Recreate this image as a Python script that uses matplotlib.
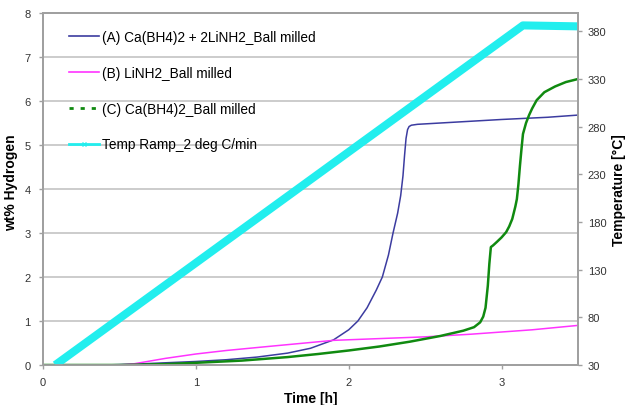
import matplotlib
matplotlib.use("Agg")
import matplotlib.pyplot as plt
from matplotlib.lines import Line2D

plt.rcParams['font.family'] = ['Liberation Sans', 'DejaVu Sans']

# Data
a_t = [0, 0.4, 0.6, 0.8, 1.0, 1.2, 1.4, 1.6, 1.75, 1.9, 2.0, 2.06, 2.12, 2.18, 2.22, 2.26, 2.29, 2.32,
       2.34, 2.355, 2.365, 2.375, 2.385, 2.395, 2.41, 2.45, 2.7, 3.0, 3.3, 3.5]
a_wt = [0, 0, 0.02, 0.05, 0.08, 0.12, 0.18, 0.27, 0.38, 0.57, 0.8, 1.0, 1.3, 1.7, 2.0, 2.5, 3.0, 3.45,
        3.85, 4.3, 4.75, 5.15, 5.35, 5.42, 5.45, 5.47, 5.52, 5.58, 5.63, 5.68]

b_t = [0, 0.5, 0.6, 0.8, 1.0, 1.2, 1.5, 1.9, 2.2, 2.5, 2.8, 3.0, 3.2, 3.5]
b_wt = [0, 0, 0.03, 0.15, 0.25, 0.33, 0.43, 0.56, 0.60, 0.64, 0.70, 0.75, 0.80, 0.90]

c_t = [0, 0.5, 0.8, 1.0, 1.3, 1.6, 1.8, 2.0, 2.2, 2.4, 2.6, 2.75, 2.82, 2.86, 2.88, 2.895, 2.91, 2.92,
       2.93, 2.945, 2.97, 3.0, 3.03, 3.05, 3.07, 3.09, 3.10, 3.11, 3.12, 3.13, 3.14, 3.16, 3.18, 3.2,
       3.23, 3.28, 3.35, 3.42, 3.5]
c_wt = [0, 0, 0.02, 0.05, 0.1, 0.18, 0.25, 0.33, 0.42, 0.53, 0.66, 0.78, 0.86, 0.97, 1.1, 1.3, 1.8, 2.3,
        2.68, 2.72, 2.8, 2.9, 3.02, 3.15, 3.32, 3.6, 3.77, 4.1, 4.52, 4.9, 5.25, 5.5, 5.68, 5.83,
        6.02, 6.2, 6.33, 6.43, 6.5]

temp_t = [0.08, 3.14, 3.5]
temp_c = [30, 386, 385]

labels = ["(A) Ca(BH4)2 + 2LiNH2_Ball milled", "(B) LiNH2_Ball milled",
          "(C) Ca(BH4)2_Ball milled", "Temp Ramp_2 deg C/min"]
x_ticks = [0, 1, 2, 3]
y_ticks = [0, 1, 2, 3, 4, 5, 6, 7, 8]
t_ticks = [30, 80, 130, 180, 230, 280, 330, 380]

blue = '#3c3ca0'
pink = '#ff33ff'
green = '#108a10'
cyan = '#22eeee'
spine_c = '#a0a0a0'
grid_c = '#c8c8c8'

fig = plt.figure(figsize=(6.28, 4.06), dpi=100)
ax = fig.add_axes([43/628, 40/406, 535/628, 352/406])
ax2 = ax.twinx()

ax.set_xlim(0, 3.5)
ax.set_ylim(0, 8)
ax2.set_ylim(30, 399)

for yv in y_ticks[1:-1]:
    ax.axhline(yv, color=grid_c, lw=1.3, zorder=0)

ax.plot(a_t, a_wt, color=blue, lw=1.1, zorder=3)
ax.plot(b_t, b_wt, color=pink, lw=1.1, zorder=3)
ax.plot(c_t, c_wt, color=green, lw=1.8, zorder=3)
ax2.plot(temp_t, temp_c, color=cyan, lw=5.8, solid_capstyle='butt', zorder=2)

ax.set_xticks(x_ticks)
ax.set_yticks(y_ticks)
ax2.set_yticks(t_ticks)

for a in (ax, ax2):
    for s in a.spines.values():
        s.set_color(spine_c)
        s.set_linewidth(1.3)
    a.tick_params(colors=spine_c, labelcolor='#333333', labelsize=8, length=3, width=1, direction='out')
ax.tick_params(axis='x', pad=6)
ax.tick_params(axis='y', pad=6)
ax2.tick_params(axis='y', pad=4)

ax.set_xlabel("Time [h]", fontsize=10, fontweight='bold')
ax.xaxis.set_label_coords(0.5, -0.075)
ax.set_ylabel("wt% Hydrogen", fontsize=10, fontweight='bold')
ax.yaxis.set_label_coords(-0.047, 0.52)
ax2.set_ylabel("Temperature [°C]", fontsize=10, fontweight='bold', labelpad=4)

handles = [Line2D([], [], color=blue, lw=1.2),
           Line2D([], [], color=pink, lw=1.2),
           Line2D([], [], color=green, lw=2, ls=(0, (1.5, 2.5))),
           Line2D([], [], color=cyan, lw=2, marker='x', ms=3, markevery=[1], markeredgewidth=1)]
leg = ax2.legend(handles, labels, loc='upper left', bbox_to_anchor=(69/628, 1 - 31/406),
                 bbox_transform=fig.transFigure, frameon=False, fontsize=9.8,
                 handlelength=2.2, handletextpad=0.2, labelspacing=1.6, borderpad=0, borderaxespad=0)

fig.savefig("out.png", dpi=100)
